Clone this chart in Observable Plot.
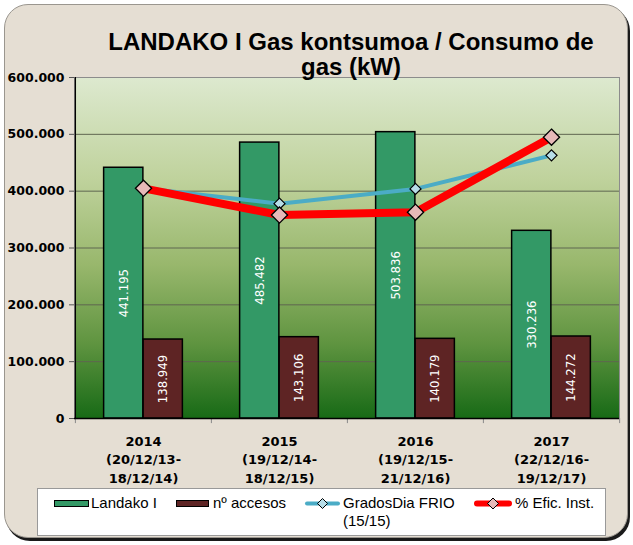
<!DOCTYPE html>
<html><head><meta charset="utf-8">
<script src="https://cdn.jsdelivr.net/npm/d3@7"></script>
<script src="https://cdn.jsdelivr.net/npm/@observablehq/plot@0.6"></script>
<style>
body{margin:0;background:#fff;}
#wrap{position:relative;width:633px;height:545px;overflow:hidden;}
#frame{position:absolute;left:4px;top:4px;width:622px;height:532px;border:1px solid #9a968f;border-radius:24px;background:#e5ded3;box-shadow:2px 3px 0 #1a1a1a;}
#title{position:absolute;left:91px;width:520px;top:29px;text-align:center;font:bold 24px "Liberation Sans",Arial,sans-serif;line-height:25px;color:#000;}
#chart{position:absolute;left:0;top:0;}
#legend{position:absolute;left:37px;top:488px;width:569px;height:48px;background:#fff;border:1px solid #999;box-sizing:border-box;font:15px "Liberation Sans",Arial,sans-serif;color:#000;}
#legend .t{position:absolute;top:5px;line-height:18px;white-space:nowrap;}
#legend svg{position:absolute;top:7px;}
</style></head>
<body>
<div id="wrap">
  <div id="frame"></div>
  <div id="chart"></div>
  <div id="title">LANDAKO I Gas kontsumoa / Consumo de<br>gas (kW)</div>
  <div id="legend"></div>
</div>
<script>
const years = ["2014", "2015", "2016", "2017"];
const periodStarts = ["(20/12/13-", "(19/12/14-", "(19/12/15-", "(22/12/16-"];
const periodEnds = ["18/12/14)", "18/12/15)", "21/12/16)", "19/12/17)"];
const landako = [441195, 485482, 503836, 330236];
const accesos = [138949, 143106, 140179, 144272];
const gradosDia = [405000, 378000, 404000, 463000];
const eficInst = [405000, 358000, 363000, 495000];
const yTicks = [0, 100000, 200000, 300000, 400000, 500000, 600000];
const seriesNames = ["Landako I", "nº accesos", "GradosDia FRIO (15/15)", "% Efic. Inst."];

const rows = years.map((y, i) => ({
  year: y, start: periodStarts[i], end: periodEnds[i],
  landako: landako[i], accesos: accesos[i], grados: gradosDia[i], efic: eficInst[i]
}));

const fmt = d3.formatLocale({decimal: ",", thousands: ".", grouping: [3], currency: ["", ""]}).format(",d");

const W = 633, H = 545, ML = 74, MR = 14, MT = 77, MB = 127;
const bw = (W - ML - MR) / years.length;
const half = bw / 2;
const barW = 39.5;
const labelFont = "DejaVu Sans Condensed, Liberation Sans Narrow, sans-serif";

const defs = () => {
  const g = d3.create("svg:defs");
  const lg = g.append("linearGradient").attr("id", "bg").attr("x1", 0).attr("x2", 0).attr("y1", 0).attr("y2", 1);
  [[0, "#dde9cf"], [0.3, "#bfd29c"], [0.55, "#98b76c"], [0.78, "#5f9440"], [1, "#176a16"]]
    .forEach(([o, c]) => lg.append("stop").attr("offset", o).attr("stop-color", c));
  return g.node();
};

const plot = Plot.plot({
  width: W, height: H,
  marginLeft: ML, marginRight: MR, marginTop: MT, marginBottom: MB,
  style: {background: "transparent", overflow: "visible"},
  x: {domain: years, type: "band", padding: 0, axis: null},
  y: {domain: [0, 600000], axis: null},
  marks: [
    defs,
    Plot.frame({fill: "url(#bg)", stroke: null}),
    Plot.gridY(yTicks.filter(d => d > 0), {stroke: "#5e6650", strokeOpacity: 1, strokeWidth: 1}),
    Plot.frame({stroke: "#8c8c8c", fill: null}),
    Plot.axisY({ticks: yTicks, tickFormat: fmt, tickSize: 5, tickPadding: 5, label: null,
      fontWeight: "bold", fontSize: 12.5, fontFamily: "DejaVu Sans, sans-serif", stroke: "#555"}),
    Plot.ruleX(years, {x: d => d, dx: -half, y1: 0, y2: -9000, stroke: "#888"}),
    Plot.ruleX([years[years.length - 1]], {x: d => d, dx: half, y1: 0, y2: -9000, stroke: "#888"}),
    Plot.barY(rows, {x: "year", y: "landako", fill: "#339966", stroke: "#000", strokeWidth: 1.5,
      insetLeft: half - barW, insetRight: half}),
    Plot.barY(rows, {x: "year", y: "accesos", fill: "#5e2424", stroke: "#000", strokeWidth: 1.5,
      insetLeft: half, insetRight: half - barW}),
    Plot.text(rows, {x: "year", y: d => d.landako / 2, text: d => fmt(d.landako), rotate: -90, dx: -barW / 2,
      fill: "#fff", fontSize: 13, fontFamily: labelFont}),
    Plot.text(rows, {x: "year", y: d => d.accesos / 2, text: d => fmt(d.accesos), rotate: -90, dx: barW / 2,
      fill: "#fff", fontSize: 13, fontFamily: labelFont}),
    Plot.ruleY([0], {stroke: "#000", strokeWidth: 1.3}),
    Plot.ruleX([years[0]], {x: d => d, dx: -half, y1: 0, y2: 600000, stroke: "#000", strokeWidth: 1.3}),
    Plot.line(rows, {x: "year", y: "grados", stroke: "#4bacc6", strokeWidth: 4, strokeLinejoin: "round"}),
    Plot.line(rows, {x: "year", y: "efic", stroke: "#ff0000", strokeWidth: 8, strokeLinejoin: "round"}),
    Plot.dot(rows, {x: "year", y: "grados", symbol: "diamond2", r: 5, fill: "#b7dee8", stroke: "#000", strokeWidth: 1.2}),
    Plot.dot(rows, {x: "year", y: "efic", symbol: "diamond2", r: 7.3, fill: "#e6b9b8", stroke: "#000", strokeWidth: 1.3}),
    Plot.text(rows, {x: "year", y: 0, text: d => `${d.year}\n${d.start}\n${d.end}`, lineAnchor: "top", dy: 14,
      lineHeight: 1.42, fontWeight: "bold", fontSize: 13, fontFamily: "DejaVu Sans, sans-serif", fill: "#000"})
  ]
});
document.getElementById("chart").appendChild(plot);

// legend
const leg = d3.select("#legend");
const sw = [
  {x: 16, w: 35, text: 53, kind: "bar", fill: "#339966"},
  {x: 138, w: 33, text: 175, kind: "bar", fill: "#5e2424"},
  {x: 266, w: 37, text: 305, kind: "line", color: "#4bacc6", lw: 4, mfill: "#b7dee8", ms: 5},
  {x: 436, w: 38, text: 477, kind: "line", color: "#ff0000", lw: 6, mfill: "#e6b9b8", ms: 5.5}
];
sw.forEach((s, i) => {
  const svg = leg.append("svg").style("left", s.x + "px").attr("width", s.w).attr("height", 16);
  if (s.kind === "bar") {
    svg.append("rect").attr("x", 0.5).attr("y", 4.5).attr("width", s.w - 1).attr("height", 6)
      .attr("fill", s.fill).attr("stroke", "#000").attr("stroke-width", 1);
  } else {
    svg.append("line").attr("x1", 3).attr("x2", s.w - 3).attr("y1", 7.5).attr("y2", 7.5)
      .attr("stroke", s.color).attr("stroke-width", s.lw).attr("stroke-linecap", "round");
    const c = s.w / 2, m = s.ms;
    svg.append("path").attr("d", `M${c},${7.5 - m}L${c + m},7.5L${c},${7.5 + m}L${c - m},7.5Z`)
      .attr("fill", s.mfill).attr("stroke", "#000").attr("stroke-width", 1);
  }
  const label = i === 2 ? "GradosDia FRIO<br>(15/15)" : seriesNames[i];
  leg.append("div").attr("class", "t").style("left", s.text + "px").html(label);
});
</script>
</body></html>
